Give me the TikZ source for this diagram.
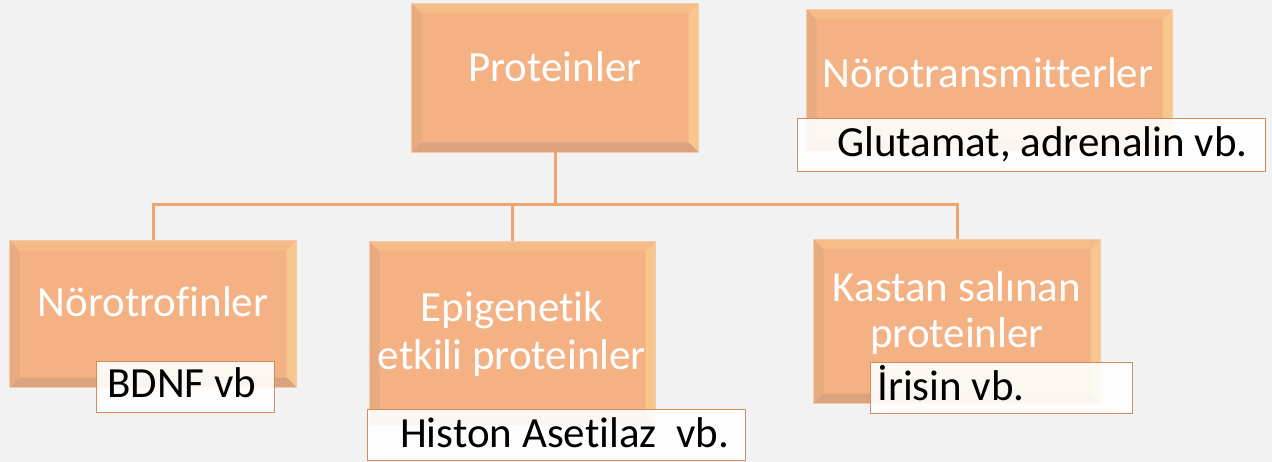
\documentclass[tikz,border=0pt]{standalone}
\usepackage{fontspec}
\setmainfont{Carlito}[Ligatures=NoCommon]
\usetikzlibrary{calc}
\definecolor{bg}{HTML}{F2F2F2}
\definecolor{boxfill}{HTML}{F4B183}
\definecolor{boxedge}{HTML}{F3CBA8}
\definecolor{bevtop}{HTML}{F6BC88}
\definecolor{bevright}{HTML}{F8C78D}
\definecolor{bevbottom}{HTML}{DBA27E}
\definecolor{bevleft}{HTML}{E8AB80}
\definecolor{wire}{HTML}{F2A46E}
\definecolor{tagedge}{HTML}{D38C5C}

\tikzset{
  box/.style={rectangle, inner sep=0pt, fill=boxfill, draw=boxedge, line width=1pt},
  tag/.style={rectangle, inner sep=0pt, fill=white, fill opacity=0.9, draw=tagedge, line width=0.9pt},
  boxtext/.style={text=white, font=\fontsize{43}{47}\selectfont, inner sep=0pt, align=center},
  tagtext/.style={text=black, font=\fontsize{43}{47}\selectfont, inner sep=0pt, anchor=base west},
  wireline/.style={draw=wire, line width=3pt}
}

% bevelled edges of a box node: #1 = node name, #2 = bevel width in pt
\newcommand\bevelbox[2]{%
  \fill[bevtop] (#1.north west) -- (#1.north east) -- ($(#1.north east)+(-#2pt,-#2pt)$) -- ($(#1.north west)+(#2pt,-#2pt)$) -- cycle;
  \fill[bevright] (#1.north east) -- (#1.south east) -- ($(#1.south east)+(-#2pt,#2pt)$) -- ($(#1.north east)+(-#2pt,-#2pt)$) -- cycle;
  \fill[bevbottom] (#1.south east) -- (#1.south west) -- ($(#1.south west)+(#2pt,#2pt)$) -- ($(#1.south east)+(-#2pt,#2pt)$) -- cycle;
  \fill[bevleft] (#1.south west) -- (#1.north west) -- ($(#1.north west)+(#2pt,-#2pt)$) -- ($(#1.south west)+(#2pt,#2pt)$) -- cycle;
  \draw[boxedge, line width=1pt] (#1.north west) rectangle (#1.south east);
}

\begin{document}
\begin{tikzpicture}[x=1pt, y=-1pt]
  \useasboundingbox (0,0) rectangle (1272,462);
  \fill[bg] (0,0) rectangle (1272,462);

  % main boxes
  \node[box, minimum width=286pt, minimum height=148pt] (prot) at (555,78) {};
  \node[box, minimum width=365pt, minimum height=140pt] (ntm) at (989.5,80) {};
  \node[box, minimum width=286pt, minimum height=146pt] (ntf) at (153,314) {};
  \node[box, minimum width=285pt, minimum height=183pt] (epi) at (512.5,333.5) {};
  \node[box, minimum width=286pt, minimum height=163pt] (kas) at (957,321.5) {};
  \foreach \n in {prot,ntm,ntf,epi,kas} {\bevelbox{\n}{10}}

  % connectors
  \coordinate (bus) at (555,205);
  \draw[wireline] (prot.south) -- (bus);
  \draw[wireline] (bus) -| (ntf.north);
  \draw[wireline] (bus) -| (epi.north);
  \draw[wireline] (bus) -| (kas.north);

  % box titles (base anchor of a two-line title sits on its last line)
  \node[boxtext, anchor=base] (protT) at (555,82) {Proteinler};
  \node[boxtext, anchor=base] (ntmT) at (988,88) {Nörotransmitterler};
  \node[boxtext, anchor=base] (ntfT) at (153,317) {Nörotrofinler};
  \node[boxtext, anchor=base, font=\fontsize{43}{48}\selectfont] (epiT) at (512,370) {Epigenetik\\etkili proteinler};
  \node[boxtext, anchor=base, font=\fontsize{43}{46}\selectfont] (kasT) at (957,348) {Kastan salınan\\proteinler};

  % example tags
  \node[tag, minimum width=468pt, minimum height=53pt] (glut) at (1031,144.5) {};
  \node[tag, minimum width=178pt, minimum height=51pt] (bdnf) at (185,386.5) {};
  \node[tag, minimum width=378pt, minimum height=51pt] (hist) at (556,434.5) {};
  \node[tag, minimum width=262pt, minimum height=51pt] (iris) at (1001,387.5) {};

  \node[tagtext] (glutT) at (837,157) {Glutamat, adrenalin vb.};
  \node[tagtext] (bdnfT) at (107,397) {BDNF vb};
  \node[tagtext] (histT) at (400,447) {Histon Asetilaz\ \ vb.};
  \node[tagtext] (irisT) at (877,400) {İrisin vb.};
\end{tikzpicture}
\end{document}
